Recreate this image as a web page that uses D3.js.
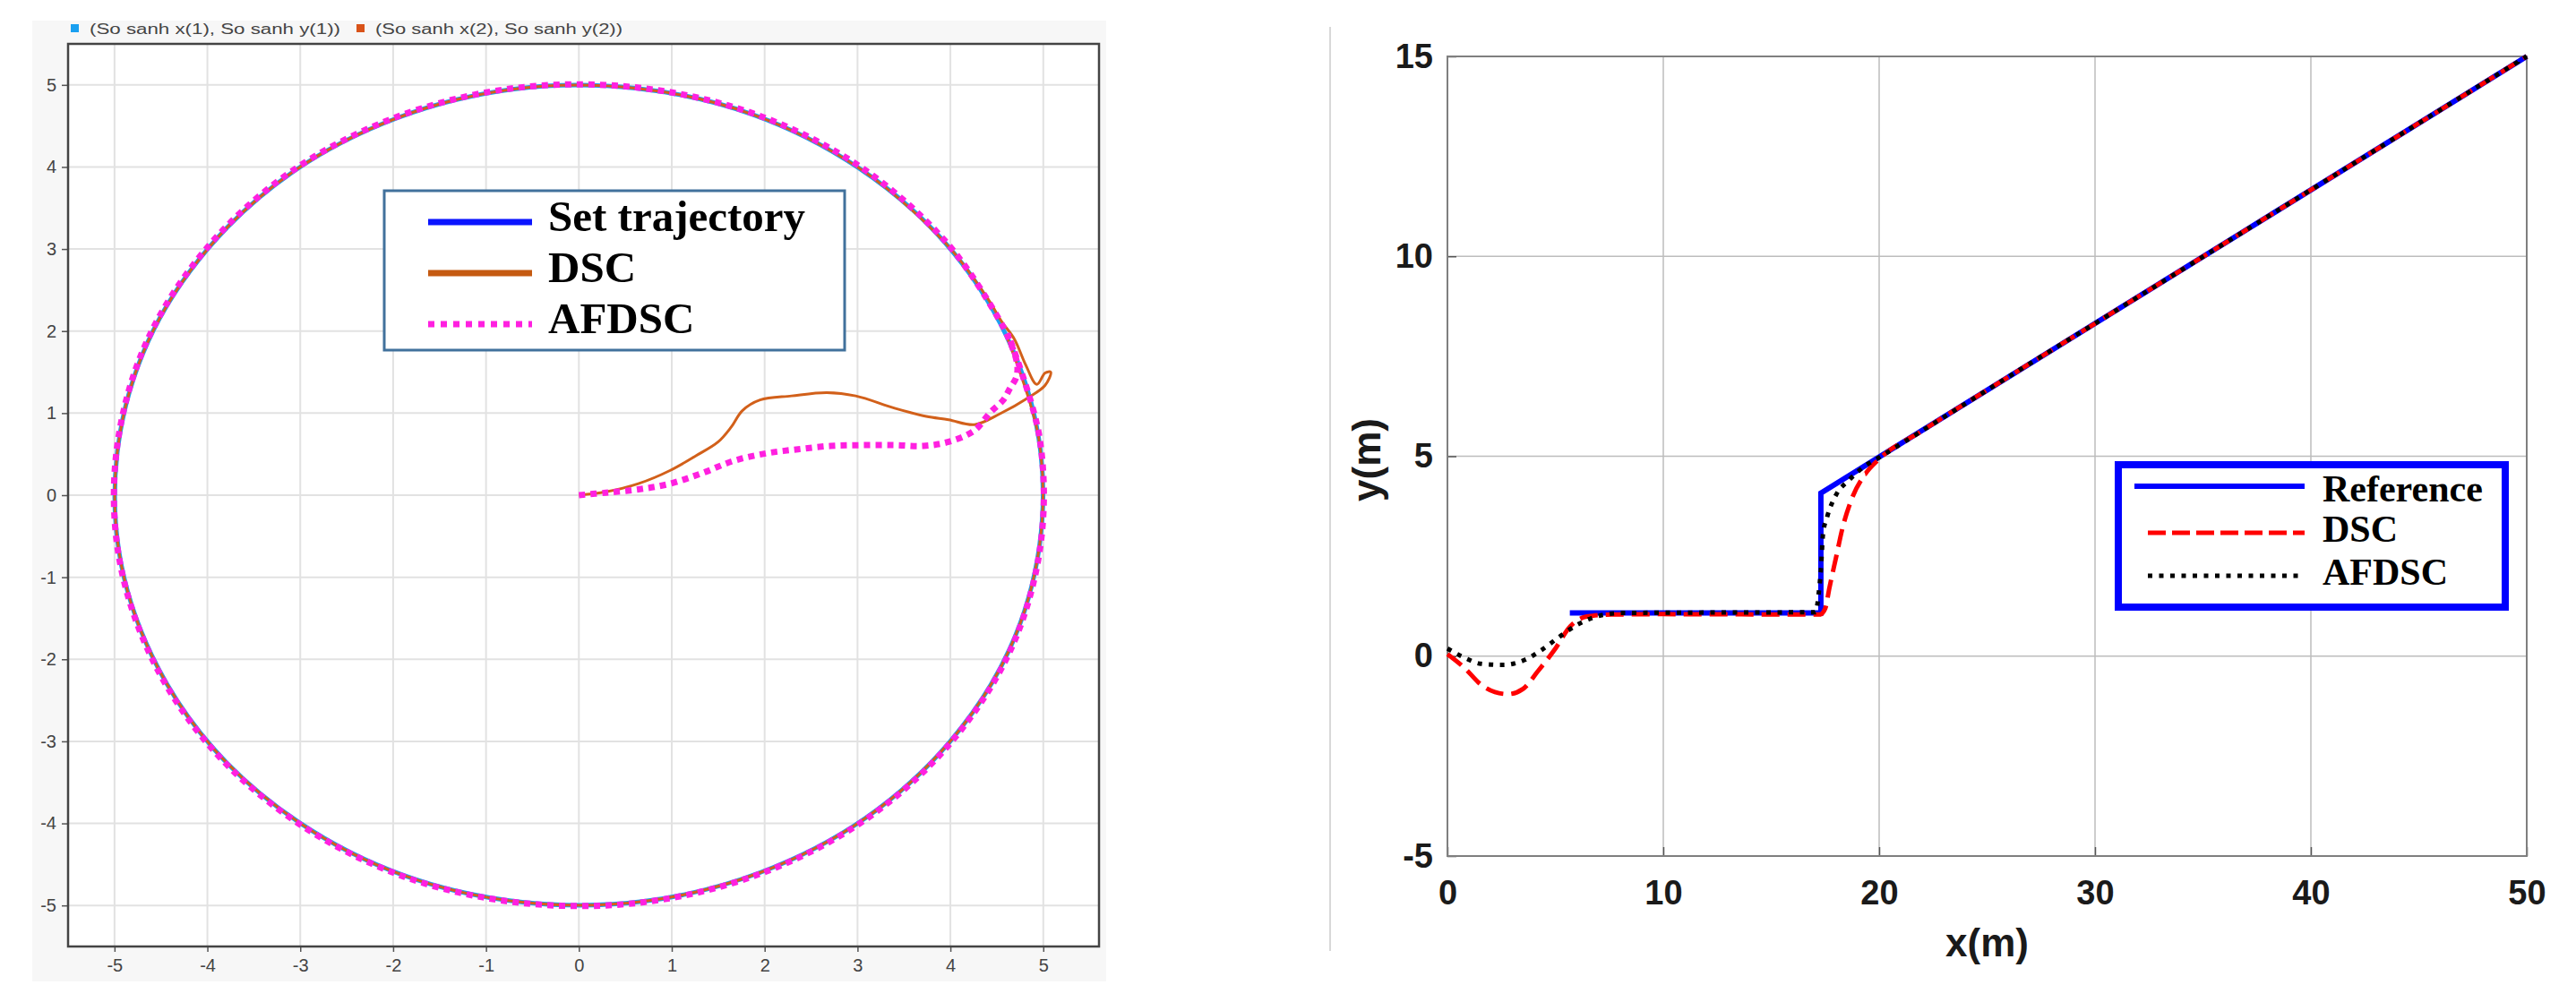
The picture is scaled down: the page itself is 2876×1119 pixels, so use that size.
<!DOCTYPE html>
<html>
<head>
<meta charset="utf-8">
<script src="https://cdn.jsdelivr.net/npm/d3@7"></script>
<style>
  body{margin:0;background:#fff;}
</style>
</head>
<body>
<svg id="fig"></svg>
<script>
// ---- left chart: circular trajectory ----
var setTrajectory = [
  [4.95,0.70],[4.60,1.95],[3.94,3.08],[3.01,3.99],[1.87,4.64],[0.61,4.96],
  [-0.70,4.95],[-1.95,4.60],[-3.08,3.94],[-3.99,3.01],[-4.64,1.87],[-4.96,0.61],
  [-4.95,-0.70],[-4.60,-1.95],[-3.94,-3.08],[-3.01,-3.99],[-1.87,-4.64],[-0.61,-4.96],
  [0.70,-4.95],[1.95,-4.60],[3.08,-3.94],[3.99,-3.01],[4.64,-1.87],[4.96,-0.61]
];
var dscCircle = [
  [0,0],[0.29,0.04],[0.64,0.14],[0.98,0.30],[1.26,0.48],[1.50,0.65],[1.64,0.83],
  [1.76,1.03],[1.95,1.16],[2.29,1.21],[2.67,1.25],[2.98,1.21],[3.40,1.06],[3.74,0.96],
  [3.98,0.92],[4.26,0.86],[4.53,0.99],[4.84,1.19],[5.02,1.34],[5.08,1.50],[5.02,1.49],
  [4.93,1.35],[4.81,1.59],[4.69,1.90],[4.55,2.12],[4.40,2.40],[3.94,3.08],
  [3.01,3.99],[1.87,4.64],[0.61,4.96],[-0.70,4.95],[-1.95,4.60],[-3.08,3.94],
  [-3.99,3.01],[-4.64,1.87],[-4.96,0.61],[-4.95,-0.70],[-4.60,-1.95],[-3.94,-3.08],
  [-3.01,-3.99],[-1.87,-4.64],[-0.61,-4.96],[0.70,-4.95],[1.95,-4.60],[3.08,-3.94],
  [3.99,-3.01],[4.64,-1.87],[4.96,-0.61],[4.95,0.70],[4.60,1.95]
];
var afdscCircle = [
  [0,0],[0.29,0.03],[0.64,0.07],[0.98,0.14],[1.33,0.27],[1.67,0.42],[2.02,0.51],
  [2.36,0.56],[2.71,0.60],[3.05,0.61],[3.40,0.61],[3.71,0.60],[3.98,0.65],[4.26,0.79],
  [4.43,1.01],[4.57,1.16],[4.64,1.30],[4.71,1.44],[4.72,1.59],[4.65,1.85],[4.52,2.15],
  [3.95,3.09],[3.02,4.01],[1.88,4.65],[0.61,4.97],[-0.70,4.96],[-1.96,4.61],
  [-3.09,3.95],[-4.00,3.02],[-4.65,1.88],[-4.97,0.61],[-4.96,-0.70],[-4.61,-1.96],
  [-3.95,-3.09],[-3.02,-4.00],[-1.88,-4.65],[-0.61,-4.97],[0.70,-4.96],[1.96,-4.61],
  [3.09,-3.95],[4.00,-3.02],[4.65,-1.88],[4.97,-0.61],[4.96,0.70],[4.62,1.96]
];
var circleTicks = [-5,-4,-3,-2,-1,0,1,2,3,4,5];
var circleLegend = ["Set trajectory","DSC","AFDSC"];
var scopeLegend = ["(So sanh x(1), So sanh y(1))","(So sanh x(2), So sanh y(2))"];

// ---- right chart: step / ramp trajectory ----
var referenceLine = [[5.67,1.08],[17.3,1.08],[17.3,4.08],[50,15]];
var dscLine = [
  [0,0.05],[0.8,-0.30],[1.55,-0.71],[2.2,-0.90],[2.8,-0.95],[3.5,-0.82],[4.2,-0.37],
  [4.95,0.15],[5.7,0.75],[6.45,0.99],[7.6,1.04],[10,1.05],[17.25,1.04],[17.5,1.19],
  [17.7,1.72],[18.0,2.46],[18.3,3.20],[18.75,3.96],[19.35,4.55],[20,4.93],[22,5.64],
  [26,6.99],[30,8.32],[35,9.99],[40,11.66],[45,13.33],[50,15]
];
var afdscLine = [
  [0,0.19],[0.8,-0.04],[1.55,-0.19],[2.6,-0.22],[3.6,-0.09],[4.35,0.15],[5.1,0.45],
  [6.0,0.78],[7.2,1.03],[8.2,1.08],[17.05,1.10],[17.2,1.57],[17.3,2.16],[17.4,3.06],
  [17.6,3.50],[18.0,4.03],[18.6,4.40],[19.3,4.74],[20,4.97],[22,5.64],
  [26,6.99],[30,8.32],[35,9.99],[40,11.66],[45,13.33],[50,15]
];
var lineXTicks = [0,10,20,30,40,50];
var lineYTicks = [-5,0,5,10,15];
var lineLegend = ["Reference","DSC","AFDSC"];

var svg = d3.select("#fig")
            .attr("width",2876)
            .attr("height",1119);

drawCircleChart();
drawLineChart();

function plainNum(d){ return String(d); }   // keep hyphen minus like the scope

function drawCircleChart(){
  var box = {left:76,right:1227,top:49,bot:1057};
  var xScale = d3.scaleLinear().domain([-5.5,5.6]).range([box.left,box.right]);
  var yScale = d3.scaleLinear().domain([-5.5,5.5]).range([box.bot,box.top]);
  var g = svg.append("g");

  g.append("rect")
   .attr("x",36).attr("y",23).attr("width",1199).attr("height",1073)
   .attr("fill","#f7f7f7");
  g.append("rect")
   .attr("x",box.left).attr("y",box.top)
   .attr("width",box.right-box.left).attr("height",box.bot-box.top)
   .attr("fill","#fff");

  // grid
  g.selectAll("line.vgrid")
   .data(circleTicks).enter().append("line")
   .attr("x1",function(d){return xScale(d);})
   .attr("x2",function(d){return xScale(d);})
   .attr("y1",box.top).attr("y2",box.bot)
   .attr("stroke","#e2e2e2").attr("stroke-width",2);
  g.selectAll("line.hgrid")
   .data(circleTicks).enter().append("line")
   .attr("y1",function(d){return yScale(d);})
   .attr("y2",function(d){return yScale(d);})
   .attr("x1",box.left).attr("x2",box.right)
   .attr("stroke","#e2e2e2").attr("stroke-width",2);

  // axes
  var xAxis = g.append("g")
     .attr("transform","translate(0,"+box.bot+")")
     .call(d3.axisBottom(xScale).tickValues(circleTicks).tickFormat(plainNum).tickSize(6).tickPadding(8));
  var yAxis = g.append("g")
     .attr("transform","translate("+box.left+",0)")
     .call(d3.axisLeft(yScale).tickValues(circleTicks).tickFormat(plainNum).tickSize(7).tickPadding(6));
  [xAxis,yAxis].forEach(function(a){
    a.select(".domain").remove();
    a.selectAll("line").attr("stroke","#555").attr("stroke-width",1.5);
    a.selectAll("text")
     .attr("fill","#444")
     .style("font-family","'Liberation Sans Narrow','Arial Narrow','Liberation Sans',sans-serif")
     .style("font-size","20px");
  });

  g.append("rect")
   .attr("x",box.left).attr("y",box.top)
   .attr("width",box.right-box.left).attr("height",box.bot-box.top)
   .attr("fill","none").attr("stroke","#444").attr("stroke-width",2.5);

  // curves
  var line = d3.line()
               .x(function(d){return xScale(d[0]);})
               .y(function(d){return yScale(d[1]);});
  g.append("path")
   .attr("d",line.curve(d3.curveCatmullRomClosed)(setTrajectory))
   .attr("fill","none").attr("stroke","#1e9ff2").attr("stroke-width",5);
  g.append("path")
   .attr("d",line.curve(d3.curveCatmullRom)(dscCircle))
   .attr("fill","none").attr("stroke","#d2601a").attr("stroke-width",3);
  g.append("path")
   .attr("d",line.curve(d3.curveCatmullRom)(afdscCircle))
   .attr("fill","none").attr("stroke","#ff20e0").attr("stroke-width",7)
   .attr("stroke-dasharray","7,6");

  // scope legend on top
  var scopeColors = ["#1aa0f0","#d95319"];
  var scopeX = [79,398];
  var scopeLen = [280,276];
  scopeLegend.forEach(function(t,i){
    g.append("rect")
     .attr("x",scopeX[i]).attr("y",27).attr("width",9).attr("height",9)
     .attr("fill",scopeColors[i]);
    g.append("text")
     .attr("x",scopeX[i]+21).attr("y",38)
     .attr("textLength",scopeLen[i]).attr("lengthAdjust","spacingAndGlyphs")
     .style("font-family","'Liberation Sans',Arial,sans-serif")
     .style("font-size","16px")
     .attr("fill","#444")
     .text(t);
  });

  // boxed legend
  g.append("rect")
   .attr("x",429).attr("y",213).attr("width",514).attr("height",178)
   .attr("fill","#fff").attr("stroke","#41719c").attr("stroke-width",3);
  var legColors = ["#0a14ff","#c55a11","#ff20e0"];
  var legDash = [null,null,"7,7"];
  circleLegend.forEach(function(t,i){
    var y = 248+i*57;
    g.append("line")
     .attr("x1",478).attr("x2",594).attr("y1",y).attr("y2",y)
     .attr("stroke",legColors[i]).attr("stroke-width",7)
     .attr("stroke-dasharray",legDash[i]);
    g.append("text")
     .attr("x",612).attr("y",y+10)
     .style("font-family","'Liberation Serif','Times New Roman',serif")
     .style("font-weight","bold")
     .style("font-size","49px")
     .attr("fill","#000")
     .text(t);
  });
}

function drawLineChart(){
  var box = {left:1616,right:2821,top:63,bot:956};
  var xScale = d3.scaleLinear().domain([0,50]).range([box.left,box.right]);
  var yScale = d3.scaleLinear().domain([-5,15]).range([box.bot,box.top]);
  var g = svg.append("g");

  g.append("line")
   .attr("x1",1485).attr("x2",1485).attr("y1",30).attr("y2",1062)
   .attr("stroke","#d8d8d8").attr("stroke-width",2);

  g.selectAll("line.vgrid")
   .data(lineXTicks).enter().append("line")
   .attr("x1",function(d){return xScale(d);})
   .attr("x2",function(d){return xScale(d);})
   .attr("y1",box.top).attr("y2",box.bot)
   .attr("stroke","#bdbdbd").attr("stroke-width",1.5);
  g.selectAll("line.hgrid")
   .data(lineYTicks).enter().append("line")
   .attr("y1",function(d){return yScale(d);})
   .attr("y2",function(d){return yScale(d);})
   .attr("x1",box.left).attr("x2",box.right)
   .attr("stroke","#bdbdbd").attr("stroke-width",1.5);

  var xAxis = g.append("g")
     .attr("transform","translate(0,"+box.bot+")")
     .call(d3.axisBottom(xScale).tickValues(lineXTicks).tickFormat(plainNum).tickSize(-10).tickPadding(27));
  var yAxis = g.append("g")
     .attr("transform","translate("+box.left+",0)")
     .call(d3.axisLeft(yScale).tickValues(lineYTicks).tickFormat(plainNum).tickSize(-10).tickPadding(16));
  [xAxis,yAxis].forEach(function(a){
    a.select(".domain").remove();
    a.selectAll("line").attr("stroke","#555").attr("stroke-width",1.5);
    a.selectAll("text")
     .attr("fill","#1a1a1a")
     .style("font-family","'Liberation Sans',Arial,sans-serif")
     .style("font-weight","bold")
     .style("font-size","38px");
  });

  g.append("rect")
   .attr("x",box.left).attr("y",box.top)
   .attr("width",box.right-box.left).attr("height",box.bot-box.top)
   .attr("fill","none").attr("stroke","#7f7f7f").attr("stroke-width",2);

  g.append("text")
   .attr("x",(box.left+box.right)/2).attr("y",1068)
   .attr("text-anchor","middle")
   .style("font-family","'Liberation Sans',Arial,sans-serif")
   .style("font-weight","bold").style("font-size","44px")
   .attr("fill","#1a1a1a")
   .text("x(m)");
  g.append("text")
   .attr("transform","translate(1541,"+((box.top+box.bot)/2+4)+") rotate(-90)")
   .attr("text-anchor","middle")
   .style("font-family","'Liberation Sans',Arial,sans-serif")
   .style("font-weight","bold").style("font-size","44px")
   .attr("fill","#1a1a1a")
   .text("y(m)");

  var line = d3.line()
               .x(function(d){return xScale(d[0]);})
               .y(function(d){return yScale(d[1]);});
  g.append("path")
   .attr("d",line.curve(d3.curveLinear)(referenceLine))
   .attr("fill","none").attr("stroke","#0000ff").attr("stroke-width",6);
  g.append("path")
   .attr("d",line.curve(d3.curveMonotoneX)(dscLine))
   .attr("fill","none").attr("stroke","#ff0000").attr("stroke-width",5)
   .attr("stroke-dasharray","20,9");
  g.append("path")
   .attr("d",line.curve(d3.curveMonotoneX)(afdscLine))
   .attr("fill","none").attr("stroke","#000").attr("stroke-width",5)
   .attr("stroke-dasharray","5,7.5");

  // legend
  g.append("rect")
   .attr("x",2365).attr("y",519).attr("width",432).attr("height",159)
   .attr("fill","#fff").attr("stroke","#0000ff").attr("stroke-width",8);
  var legColors = ["#0000ff","#ff0000","#000"];
  var legDash = [null,"20,7","5,7.5"];
  var legY = [543,595,643];
  var legX1 = [2383,2398,2398];
  lineLegend.forEach(function(t,i){
    g.append("line")
     .attr("x1",legX1[i]).attr("x2",2573).attr("y1",legY[i]).attr("y2",legY[i])
     .attr("stroke",legColors[i]).attr("stroke-width",i===0?6:5)
     .attr("stroke-dasharray",legDash[i]);
    g.append("text")
     .attr("x",2593).attr("y",legY[i]+(i===0?17:10))
     .style("font-family","'Liberation Serif','Times New Roman',serif")
     .style("font-weight","bold").style("font-size","42px")
     .attr("fill","#000")
     .text(t);
  });
}
</script>
</body>
</html>
